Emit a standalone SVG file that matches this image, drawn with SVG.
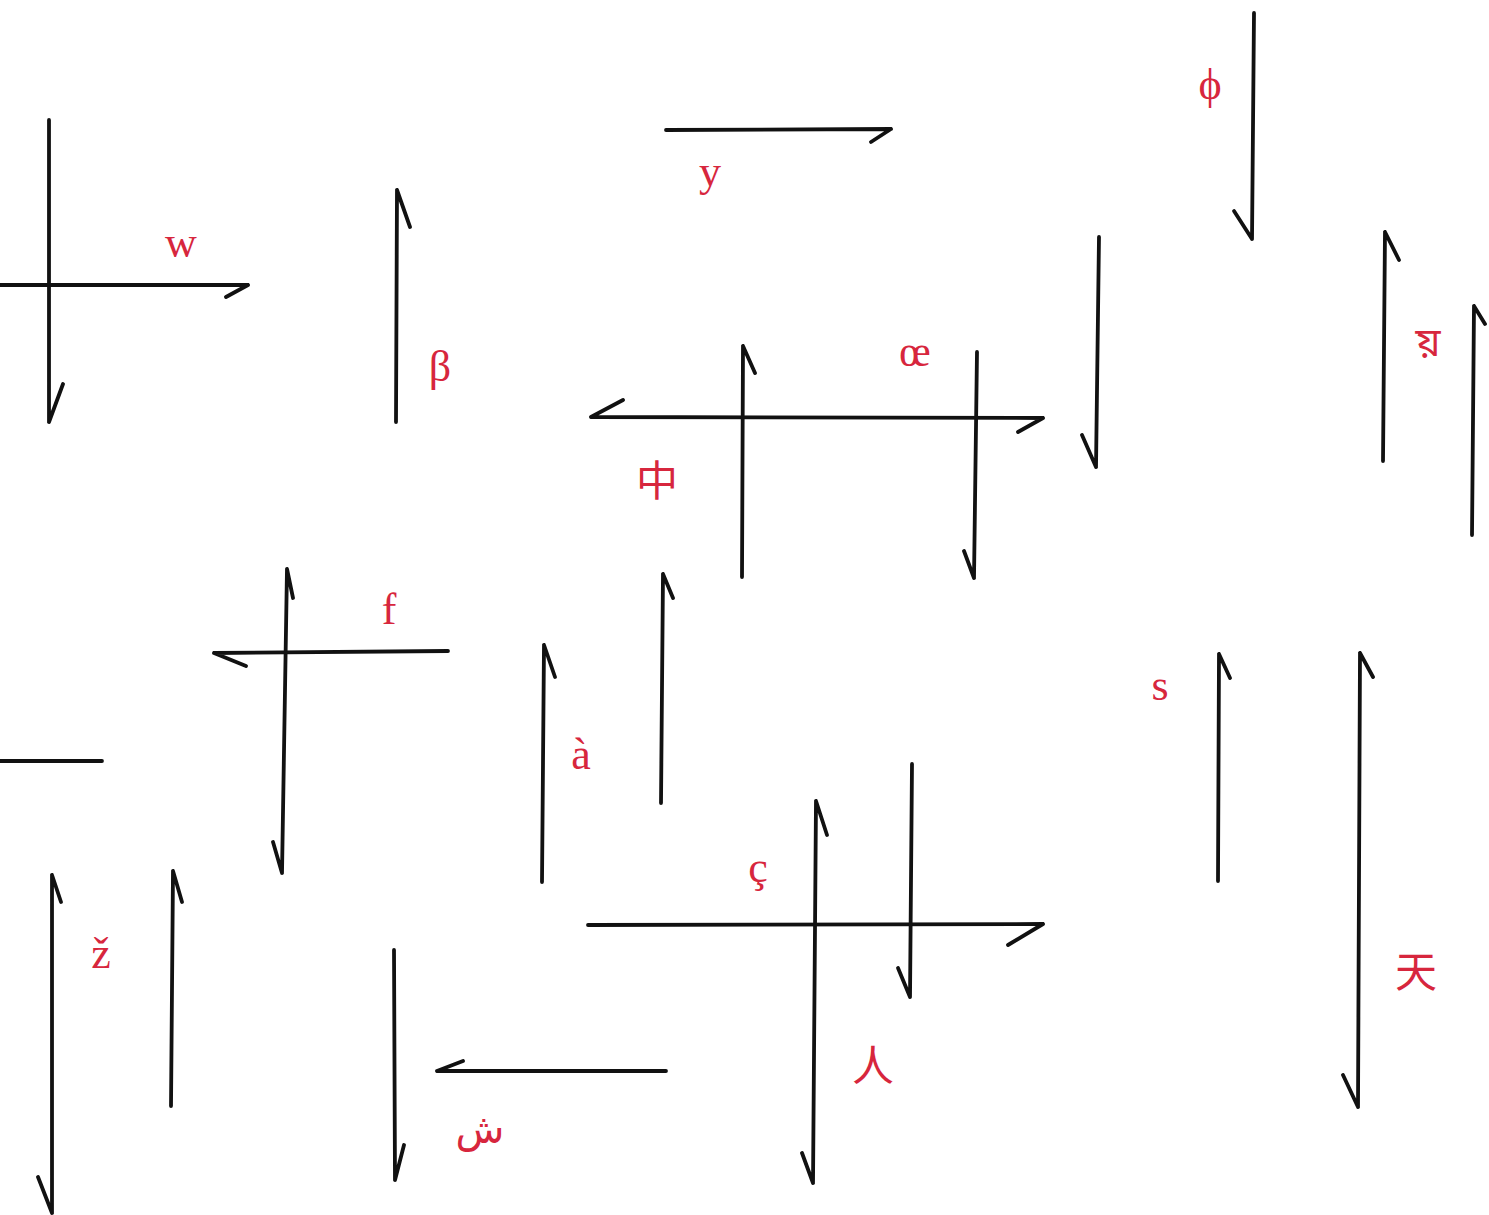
<svg xmlns="http://www.w3.org/2000/svg" width="1489" height="1215" viewBox="0 0 1489 1215">
<style>
.a{fill:none;stroke:#111111;stroke-width:3.8;stroke-linecap:round;stroke-linejoin:round}
.t{fill:#d7263d;font-family:"Liberation Serif","DejaVu Serif",serif;font-size:44px;text-anchor:middle}
.c{fill:#d7263d;font-family:"Noto Sans CJK SC","Noto Sans CJK JP",sans-serif;font-size:42px;text-anchor:middle}
.ar{fill:#d7263d;font-family:"DejaVu Sans","Noto Sans",sans-serif;font-size:40px;text-anchor:middle}
.bn{fill:#d7263d;font-family:"Noto Sans Bengali","Noto Serif Bengali","Lohit Bengali","Noto Sans",sans-serif;font-size:40px;text-anchor:middle}
</style>
<rect width="1489" height="1215" fill="#ffffff"/>
<g id="connectors">
<path class="a" d="M49 120 L49 422 M49 422 L63 384"/>
<path class="a" d="M0 285 L248 285 M248 285 L226 297"/>
<path class="a" d="M396 422 L397 190 M397 190 L410 227"/>
<path class="a" d="M666 130 L891 129 M891 129 L871 142"/>
<path class="a" d="M1254 13 L1252 239 M1252 239 L1234 211"/>
<path class="a" d="M1099 237 L1096 467 M1096 467 L1082 435"/>
<path class="a" d="M1383 461 L1385 232 M1385 232 L1399 260"/>
<path class="a" d="M1472 535 L1474 306 M1474 306 L1485 324"/>
<path class="a" d="M591 417 L1043 418 M591 417 L623 400 M1043 418 L1018 432"/>
<path class="a" d="M742 577 L743 346 M743 346 L755 373"/>
<path class="a" d="M977 352 L974 578 M974 578 L964 551"/>
<path class="a" d="M287 569 L282 873 M287 569 L293 598 M282 873 L273 842"/>
<path class="a" d="M448 651 L214 653 M214 653 L246 666"/>
<path class="a" d="M0 761 L102 761"/>
<path class="a" d="M542 882 L544 645 M544 645 L555 677"/>
<path class="a" d="M661 803 L663 574 M663 574 L673 598"/>
<path class="a" d="M588 925 L1043 924 M1043 924 L1008 945"/>
<path class="a" d="M816 801 L813 1183 M816 801 L827 835 M813 1183 L802 1153"/>
<path class="a" d="M912 764 L910 997 M910 997 L898 968"/>
<path class="a" d="M666 1071 L437 1071 M437 1071 L463 1061"/>
<path class="a" d="M394 950 L395 1180 M395 1180 L404 1145"/>
<path class="a" d="M52 875 L52 1213 M52 875 L61 902 M52 1213 L38 1177"/>
<path class="a" d="M171 1106 L173 871 M173 871 L182 902"/>
<path class="a" d="M1218 881 L1219 654 M1219 654 L1230 678"/>
<path class="a" d="M1360 653 L1358 1107 M1360 653 L1373 677 M1358 1107 L1343 1075"/>
</g>
<g id="labels">
<text class="t" x="181" y="257">w</text>
<text class="t" x="440" y="381">β</text>
<text class="t" x="710" y="186">y</text>
<text class="t" x="1210" y="99">ϕ</text>
<text class="t" x="915" y="366">œ</text>
<text class="c" x="657" y="496">中</text>
<text class="bn" x="1428" y="356">য়</text>
<text class="t" x="389" y="624">f</text>
<text class="t" x="581" y="769">à</text>
<text class="t" x="1160" y="700">s</text>
<text class="t" x="758" y="882">ç</text>
<text class="c" x="873" y="1081">人</text>
<text class="c" x="1416" y="987">天</text>
<text class="t" x="101" y="968">ž</text>
<text class="ar" x="480" y="1143">ش</text>
</g>
</svg>
